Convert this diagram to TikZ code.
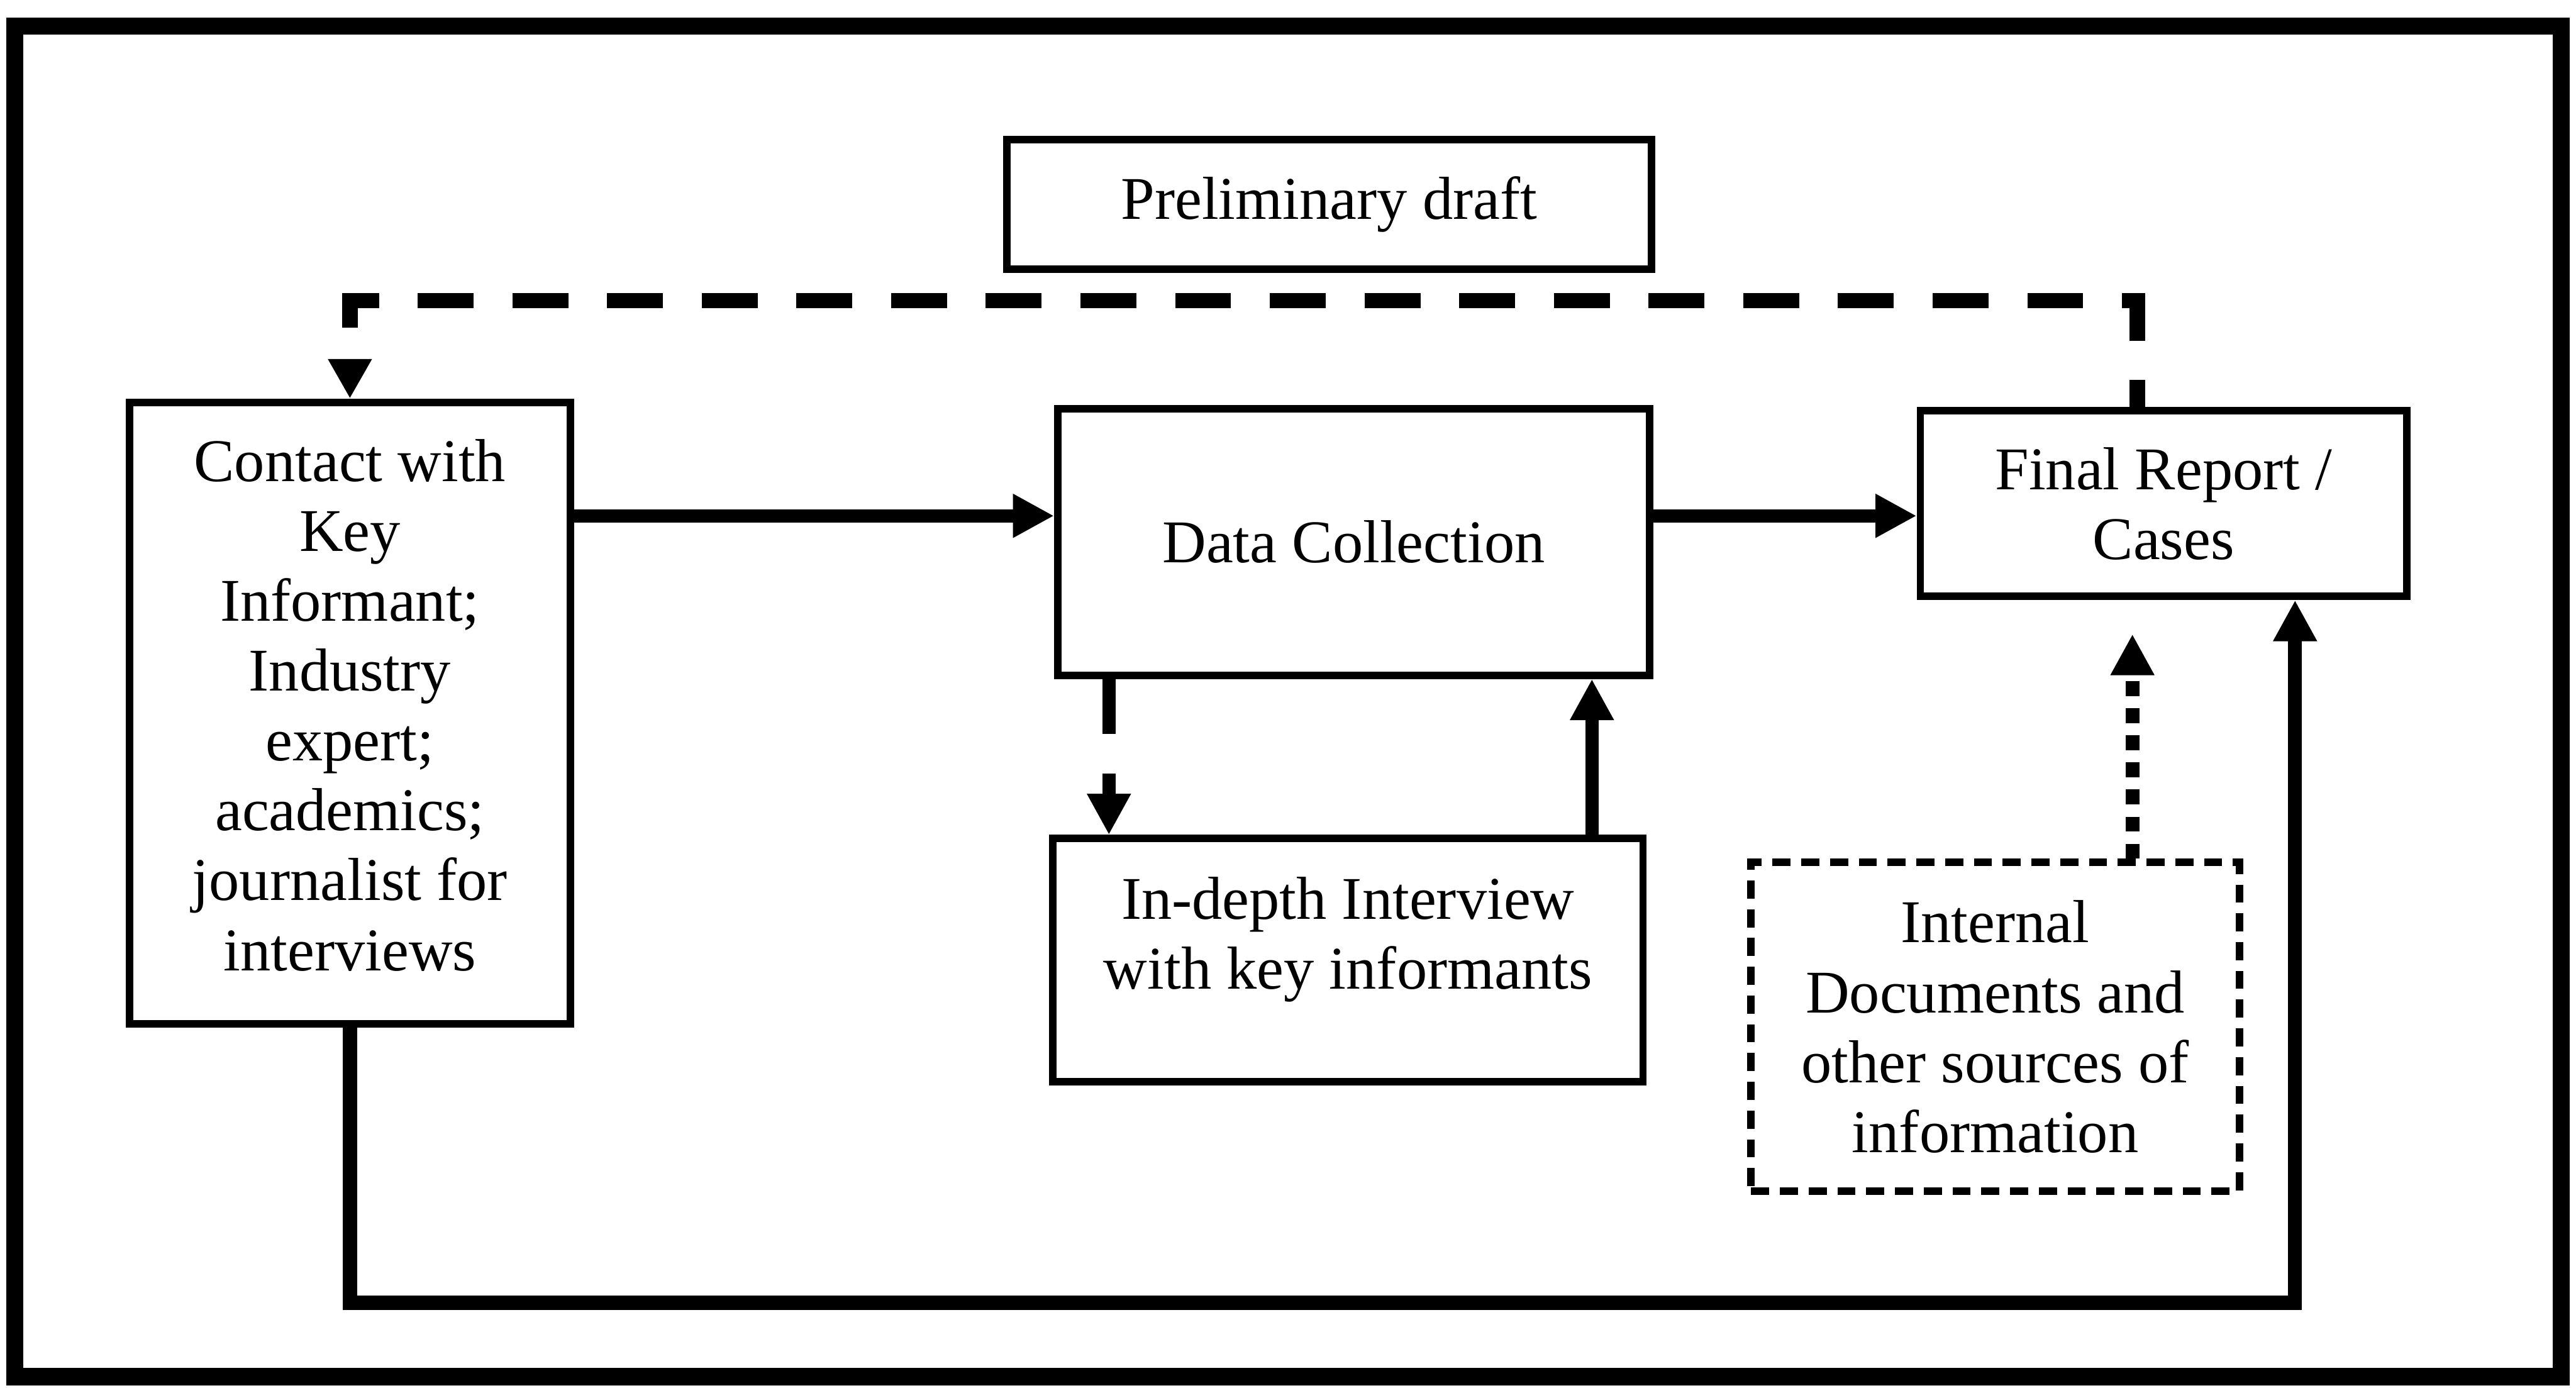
\documentclass[tikz,border=0pt]{standalone}
\usepackage{fontspec}
\setmainfont{Liberation Serif}
\usetikzlibrary{arrows.meta}
\begin{document}
\begin{tikzpicture}[x=0.01cm, y=-0.01cm,
  box/.style={draw, line width=1.3pt, inner sep=0pt, align=center,
    font=\fontsize{10.5}{12.1}\selectfont},
  flow/.style={line width=0.08cm, -{Triangle[length=0.25cm,width=0.25cm]}},
  fback/.style={line width=0.095cm, dash pattern=on 0.34cm off 0.236cm,
    dash phase=0.176cm, -{Triangle[length=0.24cm,width=0.25cm]}},
  dashedflow/.style={flow, dash pattern=on 0.335cm off 0.24cm},
  dottedflow/.style={flow, line width=0.085cm, dash pattern=on 0.09cm off 0.075cm}]

% page and outer frame
\fill[white] (0,0) rectangle (1568,844.7);
\useasboundingbox (0,0) rectangle (1568,844.7);
\draw[line width=0.105cm] (9,16) rectangle (1559,838);

% boxes
\node[box, minimum width=3.92cm, minimum height=0.79cm] (prelim) at (809,124.5)
  {Preliminary draft};
\node[box, minimum width=2.68cm, minimum height=3.78cm, text depth=0.1cm] (contact) at (213,434)
  {Contact with\\Key\\Informant;\\Industry\\expert;\\academics;\\journalist for\\interviews};
\node[box, minimum width=3.6cm, minimum height=1.62cm] (dc) at (824,330)
  {Data Collection};
\node[box, minimum width=3.59cm, minimum height=1.48cm, text depth=0.33cm] (idi) at (820.5,584.5)
  {In-depth Interview\\with key informants};
\node[box, minimum width=2.96cm, minimum height=1.13cm] (final) at (1317,306.5)
  {Final Report /\\Cases};
\node[box, dash pattern=on 0.11cm off 0.065cm, minimum width=2.97cm, minimum height=2.0cm] (docs) at (1214.5,625)
  {Internal\\Documents and\\other sources of\\information};

% routing points
\coordinate (rowA) at (0,314);
\coordinate (fbR) at (1301,183);
\coordinate (fbL) at (213,183);
\coordinate (colA) at (675,0);
\coordinate (colB) at (969,0);
\coordinate (dotTip) at (1298,386);
\coordinate (loopBR) at (1397,793);

% connectors
\draw[flow] (contact.east |- rowA) -- (dc.west |- rowA);
\draw[flow] (dc.east |- rowA) -- (final.west |- rowA);
\draw[fback] (final.north -| fbR) -- (fbR) -- (fbL) -- (contact.north -| fbL);
\draw[dashedflow] (dc.south -| colA) -- (idi.north -| colA);
\draw[flow] (idi.north -| colB) -- (dc.south -| colB);
\draw[dottedflow] (docs.north -| dotTip) -- (dotTip);
\draw[flow, line width=0.085cm] (contact.south) |- (loopBR) -- (final.south -| loopBR);

\end{tikzpicture}
\end{document}
